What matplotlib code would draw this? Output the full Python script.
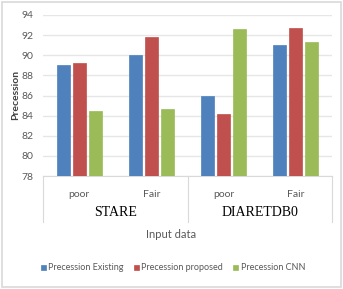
import matplotlib.pyplot as plt
import numpy as np

plt.rcParams['font.family'] = ['Lato', 'DejaVu Sans']

groups = ['STARE', 'DIARETDB0']
categories = ['poor', 'Fair', 'poor', 'Fair']
series_names = ['Precession Existing', 'Precession proposed', 'Precession CNN']
existing = [89.0, 90.0, 86.0, 91.0]
proposed = [89.2, 91.8, 84.2, 92.7]
cnn = [84.5, 84.7, 92.6, 91.3]
colors = ['#4F81BD', '#C0504D', '#9BBB59']

W, H = 343, 289
fig = plt.figure(figsize=(W / 100, H / 100), dpi=100)
ax = fig.add_axes([43 / W, 1 - 176 / H, (332 - 43) / W, (176 - 15) / H])

x = np.arange(len(categories))
width = 0.18
step = 0.22
for i, (vals, name) in enumerate(zip([existing, proposed, cnn], series_names)):
    ax.bar(x + (i - 1) * step, [v - 78 for v in vals], width, bottom=78,
           color=colors[i], edgecolor=colors[i], linewidth=0.5, label=name, zorder=3)

ax.set_ylim(78, 94)
ax.set_xlim(-0.5, 3.5)
ax.set_yticks(range(78, 95, 2))
ax.yaxis.grid(True, color='#E6E6E6', linewidth=1)
ax.set_axisbelow(True)
for s in ['top', 'right', 'left']:
    ax.spines[s].set_visible(False)
ax.spines['bottom'].set_color('#D9D9D9')
ax.tick_params(axis='y', length=0, labelsize=7.5, labelcolor='#595959', pad=7)
ax.set_xticks(x)
ax.set_xticklabels(categories)
ax.tick_params(axis='x', length=0, labelsize=7.5, labelcolor='#595959', pad=10)

# group level of the category axis
depth = (222 - 176) / (176 - 15)
for xs in [0, 0.5, 1]:
    ax.plot([xs, xs], [0, -depth], transform=ax.transAxes, color='#D9D9D9',
            linewidth=0.8, clip_on=False)
for j, g in enumerate(groups):
    ax.text(0.25 + 0.5 * j, -(213 - 176) / (176 - 15), g, transform=ax.transAxes,
            ha='center', va='center', fontsize=10, family='Liberation Serif')

fig.text(171 / W, 1 - 234 / H, 'Input data', ha='center', va='center',
         fontsize=8, color='#595959')
fig.text(16 / W, 1 - 95 / H, 'Precession', rotation=90, ha='center', va='center',
         fontsize=7.5, color='#404040', fontweight='bold')

fig.legend(loc='center', bbox_to_anchor=(173 / W, 1 - 268 / H), ncol=3, frameon=False,
           fontsize=6.5, handlelength=0.55, handleheight=0.55, handletextpad=0.3,
           columnspacing=1.1, labelcolor='#595959')

fig.patches.append(plt.Rectangle((2 / W, 2 / H), (W - 4) / W, (H - 4) / H,
                                 transform=fig.transFigure, fill=False,
                                 edgecolor='#D9D9D9', linewidth=1.2))

fig.savefig('out.png', dpi=100)
